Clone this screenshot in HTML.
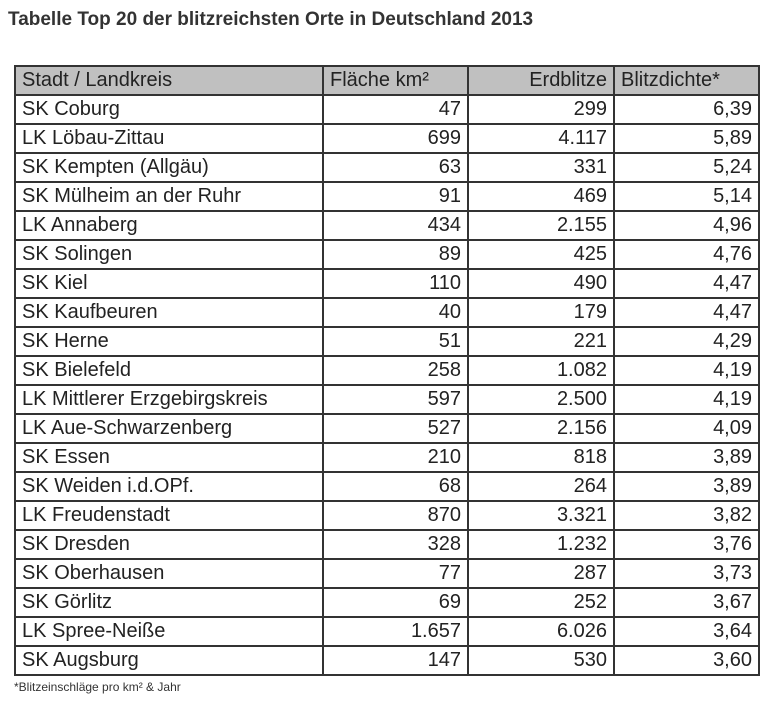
<!DOCTYPE html>
<html><head><meta charset="utf-8"><style>
body{margin:0;width:768px;height:701px;background:#fff;font-family:"Liberation Sans",Arial,sans-serif;position:relative;overflow:hidden;color:#222}
h1{position:absolute;left:8px;top:9px;margin:0;font-size:19px;font-weight:bold;color:#333}
table{position:absolute;left:14px;top:65px;border-collapse:collapse;font-size:20px}
td{border:2px solid #333;height:27px;padding:0 6px;line-height:27px;white-space:nowrap}
tr.h td{background:#c0c0c0}
td.n{text-align:right}
.f{position:absolute;left:14px;top:680px;font-size:12px;color:#333}
</style></head><body>
<h1>Tabelle Top 20 der blitzreichsten Orte in Deutschland 2013</h1>
<table>
<colgroup><col style="width:308px"><col style="width:145px"><col style="width:146px"><col style="width:145px"></colgroup>
<tr class="h"><td>Stadt / Landkreis</td><td>Fläche km²</td><td class="n">Erdblitze</td><td>Blitzdichte*</td></tr>
<tr><td>SK Coburg</td><td class="n">47</td><td class="n">299</td><td class="n">6,39</td></tr>
<tr><td>LK Löbau-Zittau</td><td class="n">699</td><td class="n">4.117</td><td class="n">5,89</td></tr>
<tr><td>SK Kempten (Allgäu)</td><td class="n">63</td><td class="n">331</td><td class="n">5,24</td></tr>
<tr><td>SK Mülheim an der Ruhr</td><td class="n">91</td><td class="n">469</td><td class="n">5,14</td></tr>
<tr><td>LK Annaberg</td><td class="n">434</td><td class="n">2.155</td><td class="n">4,96</td></tr>
<tr><td>SK Solingen</td><td class="n">89</td><td class="n">425</td><td class="n">4,76</td></tr>
<tr><td>SK Kiel</td><td class="n">110</td><td class="n">490</td><td class="n">4,47</td></tr>
<tr><td>SK Kaufbeuren</td><td class="n">40</td><td class="n">179</td><td class="n">4,47</td></tr>
<tr><td>SK Herne</td><td class="n">51</td><td class="n">221</td><td class="n">4,29</td></tr>
<tr><td>SK Bielefeld</td><td class="n">258</td><td class="n">1.082</td><td class="n">4,19</td></tr>
<tr><td>LK Mittlerer Erzgebirgskreis</td><td class="n">597</td><td class="n">2.500</td><td class="n">4,19</td></tr>
<tr><td>LK Aue-Schwarzenberg</td><td class="n">527</td><td class="n">2.156</td><td class="n">4,09</td></tr>
<tr><td>SK Essen</td><td class="n">210</td><td class="n">818</td><td class="n">3,89</td></tr>
<tr><td>SK Weiden i.d.OPf.</td><td class="n">68</td><td class="n">264</td><td class="n">3,89</td></tr>
<tr><td>LK Freudenstadt</td><td class="n">870</td><td class="n">3.321</td><td class="n">3,82</td></tr>
<tr><td>SK Dresden</td><td class="n">328</td><td class="n">1.232</td><td class="n">3,76</td></tr>
<tr><td>SK Oberhausen</td><td class="n">77</td><td class="n">287</td><td class="n">3,73</td></tr>
<tr><td>SK Görlitz</td><td class="n">69</td><td class="n">252</td><td class="n">3,67</td></tr>
<tr><td>LK Spree-Neiße</td><td class="n">1.657</td><td class="n">6.026</td><td class="n">3,64</td></tr>
<tr><td>SK Augsburg</td><td class="n">147</td><td class="n">530</td><td class="n">3,60</td></tr>
</table>
<div class="f">*Blitzeinschläge pro km² &amp; Jahr</div>
</body></html>
